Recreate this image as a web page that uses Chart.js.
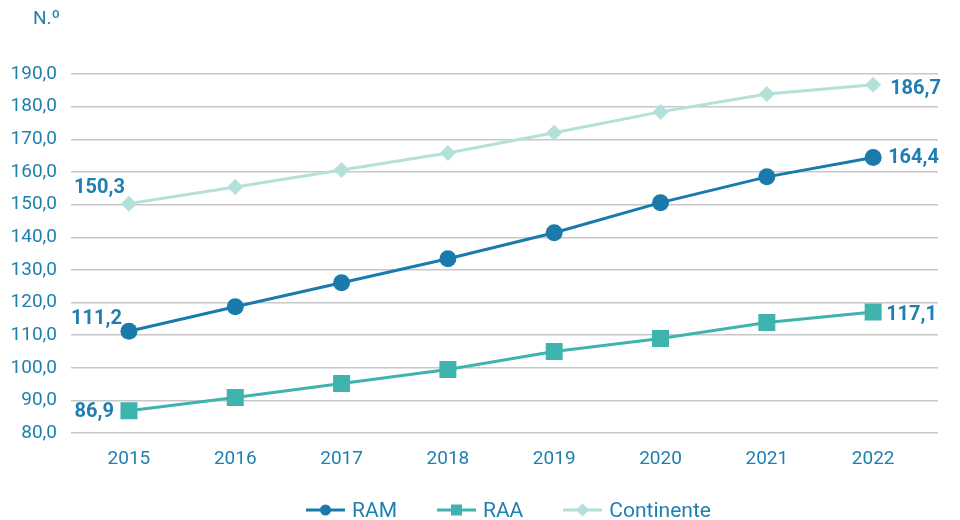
<!DOCTYPE html>
<html>
<head>
<meta charset="utf-8">
<script src="https://cdn.jsdelivr.net/npm/chart.js@4.4.0/dist/chart.umd.min.js"></script>
<style>
  html, body { margin: 0; padding: 0; background: #fff; }
  #wrap { width: 960px; height: 520px; position: relative; }
  #legend { position: absolute; left: 306px; top: 498px; display: flex; align-items: center;
            font: 21px Roboto, "Open Sans", sans-serif; color: #1f7fb0; line-height: 24px; }
  #legend .item { display: flex; align-items: center; margin-right: 40px; }
  #legend canvas { margin-right: 7px; }
</style>
</head>
<body>
<div id="wrap"><canvas id="c"></canvas><div id="legend"></div></div>
<script>
const years = [2015, 2016, 2017, 2018, 2019, 2020, 2021, 2022];
const ram = [111.2, 118.7, 126.1, 133.4, 141.4, 150.6, 158.5, 164.4];
const raa = [86.9, 90.9, 95.2, 99.5, 105.0, 109.0, 113.9, 117.1];
const continente = [150.3, 155.4, 160.6, 165.8, 172.0, 178.4, 183.9, 186.7];
const seriesNames = ['RAM', 'RAA', 'Continente'];

const BLUE = '#1a7aab';
const TEXT = '#1f7fb0';
const TEAL = '#3fb3ad';
const PALE = '#b4e0da';
const FONT = 'Roboto, "Open Sans", sans-serif';

const fmt = v => v.toFixed(1).replace('.', ',');
const pts = arr => arr.map((v, i) => ({ x: years[i], y: v }));

// small legend swatch: line with marker in the middle
function swatch(color, shape) {
  const cv = document.createElement('canvas');
  cv.width = 39; cv.height = 16;
  const c = cv.getContext('2d');
  c.strokeStyle = color; c.lineWidth = 3;
  c.beginPath(); c.moveTo(0, 8); c.lineTo(39, 8); c.stroke();
  c.fillStyle = color;
  c.beginPath();
  if (shape === 'circle') c.arc(19.5, 8, 5.5, 0, Math.PI * 2);
  else if (shape === 'rect') c.rect(14, 2.5, 11, 11);
  else { c.moveTo(19.5, 1.5); c.lineTo(26, 8); c.lineTo(19.5, 14.5); c.lineTo(13, 8); c.closePath(); }
  c.fill();
  return cv;
}

const endLabels = {
  id: 'endLabels',
  afterDatasetsDraw(chart) {
    const c = chart.ctx;
    c.save();
    c.font = 'bold 20px ' + FONT;
    c.fillStyle = TEXT;
    c.textBaseline = 'middle';
    const offs = [
      { first: [-7, -12], last: [15, 0] },   // RAM
      { first: [-15, 1], last: [13, 3] },    // RAA
      { first: [-4, -16], last: [17, 4] },   // Continente
    ];
    chart.data.datasets.forEach((ds, i) => {
      const meta = chart.getDatasetMeta(i);
      const p0 = meta.data[0], pN = meta.data[meta.data.length - 1];
      const o = offs[i];
      c.textAlign = 'right';
      c.fillText(fmt(ds.data[0].y), p0.x + o.first[0], p0.y + o.first[1]);
      c.textAlign = 'left';
      c.fillText(fmt(ds.data[ds.data.length - 1].y), pN.x + o.last[0], pN.y + o.last[1]);
    });
    c.font = '19px ' + FONT;
    c.textAlign = 'left';
    c.fillText('N.º', 33, 19);
    c.restore();
  }
};

const chart = new Chart(document.getElementById('c'), {
  type: 'line',
  data: {
    datasets: [
      { label: seriesNames[0], data: pts(ram), borderColor: BLUE, backgroundColor: BLUE,
        borderWidth: 3, pointStyle: 'circle', pointRadius: 8.5, pointBorderWidth: 0, order: 1 },
      { label: seriesNames[1], data: pts(raa), borderColor: TEAL, backgroundColor: TEAL,
        borderWidth: 3, pointStyle: 'rect', pointRadius: 12, pointBorderWidth: 0, order: 2 },
      { label: seriesNames[2], data: pts(continente), borderColor: PALE, backgroundColor: PALE,
        borderWidth: 3, pointStyle: 'rectRot', pointRadius: 8, pointBorderWidth: 0, order: 3 },
    ],
  },
  options: {
    responsive: true, maintainAspectRatio: false, animation: false,
    layout: { padding: { top: 74, right: 22, left: 0, bottom: 42 } },
    plugins: { tooltip: { enabled: false }, legend: { display: false } },
    scales: {
      x: {
        type: 'linear',
        min: 2014.455, max: 2022.61,
        grid: { display: false },
        border: { display: false },
        ticks: {
          stepSize: 1, includeBounds: false, padding: 7,
          color: TEXT, font: { family: FONT, size: 19 },
          callback: v => Number.isInteger(v) ? String(v) : '',
        },
      },
      y: {
        min: 80, max: 190,
        afterFit: s => { s.width = 71; },
        grid: { color: '#c8c8c8', lineWidth: 1.5, drawTicks: false },
        border: { display: false },
        ticks: {
          stepSize: 10, padding: 14,
          color: TEXT, font: { family: FONT, size: 19 },
          callback: v => fmt(v),
        },
      },
    },
  },
  plugins: [endLabels],
});

// HTML legend built from the datasets
const legend = document.getElementById('legend');
chart.data.datasets.forEach(ds => {
  const item = document.createElement('div');
  item.className = 'item';
  item.appendChild(swatch(ds.borderColor, ds.pointStyle));
  const t = document.createElement('span');
  t.textContent = ds.label;
  item.appendChild(t);
  legend.appendChild(item);
});
</script>
</body>
</html>
